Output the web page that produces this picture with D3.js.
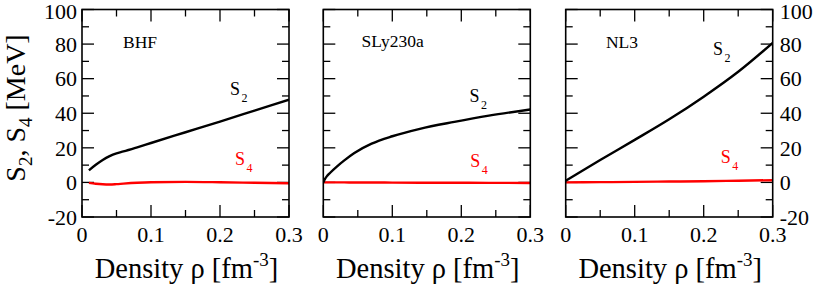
<!DOCTYPE html>
<html>
<head>
<meta charset="utf-8">
<script src="https://cdn.jsdelivr.net/npm/d3@7"></script>
<style>
  html, body { margin: 0; padding: 0; background: #fff; }
  svg { display: block; }
</style>
</head>
<body>
<svg id="chart" width="817" height="287" font-family="'Liberation Serif', 'Times New Roman', 'DejaVu Serif', serif"></svg>
<script>
// ---------------- data ----------------
const panelNames = ["BHF", "SLy230a", "NL3"];
const xTicks = [0, 0.1, 0.2, 0.3];
const xTickLabels = ["0", "0.1", "0.2", "0.3"];
const xMinorTicks = [0.05, 0.15, 0.25];
const yTicks = [-20, 0, 20, 40, 60, 80, 100];
const yTickLabels = ["-20", "0", "20", "40", "60", "80", "100"];
const yMinorTicks = [-10, 10, 30, 50, 70, 90];

const bhfX  = [0.01, 0.02, 0.03, 0.04, 0.05, 0.06, 0.08, 0.1, 0.15, 0.2, 0.25, 0.3];
const bhfS2 = [7.0, 10.2, 13.0, 15.2, 16.8, 17.9, 20.3, 22.8, 29.0, 35.2, 41.5, 47.8];
const bhfS4 = [-0.3, -0.8, -1.1, -1.2, -1.0, -0.7, -0.2, 0.1, 0.3, 0.1, -0.2, -0.5];

const slyX  = [0, 0.0025, 0.005, 0.01, 0.02, 0.03, 0.045, 0.07, 0.1, 0.14, 0.19, 0.24, 0.3];
const slyS2 = [0, 2.0, 3.5, 5.6, 9.3, 12.6, 17.0, 22.4, 26.7, 31.0, 35.0, 38.6, 42.2];
const slyS4 = [0, 0, 0, 0, 0, 0, -0.05, -0.05, -0.1, -0.15, -0.2, -0.25, -0.3];

const nl3X  = [0, 0.05, 0.1, 0.15, 0.2, 0.25, 0.3];
const nl3S2 = [1.0, 13.0, 24.6, 36.5, 49.6, 64.0, 80.7];
const nl3S4 = [0, 0.15, 0.3, 0.5, 0.7, 1.0, 1.3];

// ---------------- layout ----------------
const svg = d3.select("#chart");
const panelLefts = [82, 323.3, 565.7];
const panelW = 207;
const plotTop = 9.5, plotBottom = 217;
const majorLen = 12, minorLen = 7;

const series = [
  { x: bhfX, s2: bhfS2, s4: bhfS4 },
  { x: slyX, s2: slyS2, s4: slyS4 },
  { x: nl3X, s2: nl3S2, s4: nl3S4 }
];
// label anchor positions in data units (x, y)
const labelPos = [
  { name: [0.0594, 77.6], s2: [0.2145, 50.5], s4: [0.2217, 10.2] },
  { name: [0.0555, 78.2], s2: [0.212, 46.7], s4: [0.213, 9.2] },
  { name: [0.0584, 77.6], s2: [0.2135, 73.6], s4: [0.2246, 11.4] }
];

const y = d3.scaleLinear().domain([-20, 100]).range([plotBottom, plotTop]);

panelNames.forEach((name, i) => {
  const x0 = panelLefts[i];
  const x = d3.scaleLinear().domain([0, 0.3]).range([x0, x0 + panelW]);
  const g = svg.append("g");

  const clipId = "clip" + i;
  svg.append("clipPath").attr("id", clipId)
    .append("rect").attr("x", x0).attr("y", plotTop).attr("width", panelW).attr("height", plotBottom - plotTop);

  const line = d3.line().x(d => x(d[0])).y(d => y(d[1])).curve(d3.curveMonotoneX);
  const s = series[i];
  const s2pts = s.x.map((v, k) => [v, s.s2[k]]);
  const s4pts = s.x.map((v, k) => [v, s.s4[k]]);

  // ticks (inward) on all four sides
  const tickG = g.append("g").attr("stroke", "#000").attr("stroke-width", 1.3);
  const addYTicks = (vals, len) => vals.forEach(v => {
    tickG.append("line").attr("x1", x0).attr("x2", x0 + len).attr("y1", y(v)).attr("y2", y(v));
    tickG.append("line").attr("x1", x0 + panelW).attr("x2", x0 + panelW - len).attr("y1", y(v)).attr("y2", y(v));
  });
  const addXTicks = (vals, len) => vals.forEach(v => {
    tickG.append("line").attr("x1", x(v)).attr("x2", x(v)).attr("y1", plotBottom).attr("y2", plotBottom - len);
    tickG.append("line").attr("x1", x(v)).attr("x2", x(v)).attr("y1", plotTop).attr("y2", plotTop + len);
  });
  addYTicks(yTicks, majorLen);
  addYTicks(yMinorTicks, minorLen);
  addXTicks(xTicks, majorLen);
  addXTicks(xMinorTicks, minorLen);

  g.append("path").datum(s4pts).attr("d", line).attr("fill", "none")
    .attr("stroke", "#ff0000").attr("stroke-width", 2.4).attr("clip-path", `url(#${clipId})`);
  g.append("path").datum(s2pts).attr("d", line).attr("fill", "none")
    .attr("stroke", "#000").attr("stroke-width", 2.4).attr("clip-path", `url(#${clipId})`);

  // frame
  g.append("rect").attr("x", x0).attr("y", plotTop).attr("width", panelW).attr("height", plotBottom - plotTop)
    .attr("fill", "none").attr("stroke", "#000").attr("stroke-width", 1.6);

  // x tick labels
  xTicks.forEach((v, k) => {
    g.append("text").attr("x", x(v)).attr("y", 242).attr("text-anchor", "middle")
      .attr("font-size", 22).text(xTickLabels[k]);
  });

  // x axis title
  const xt = g.append("text").attr("x", x0 + panelW / 2 + 1).attr("y", 278)
    .attr("text-anchor", "middle").attr("font-size", 28.5);
  xt.append("tspan").text("Density ρ [fm");
  xt.append("tspan").attr("font-size", 19).attr("dy", -12).text("-3");
  xt.append("tspan").attr("dy", 12).text("]");

  // panel name
  const lp = labelPos[i];
  g.append("text").attr("x", x(lp.name[0])).attr("y", y(lp.name[1]))
    .attr("font-size", 17.5).text(name);

  // S2 / S4 labels
  const s2t = g.append("text").attr("x", x(lp.s2[0])).attr("y", y(lp.s2[1])).attr("font-size", 18).attr("fill", "#000");
  s2t.append("tspan").text("S");
  s2t.append("tspan").attr("font-size", 12).attr("dx", 1.5).attr("dy", 7).text("2");
  const s4t = g.append("text").attr("x", x(lp.s4[0])).attr("y", y(lp.s4[1])).attr("font-size", 18).attr("fill", "#ff0000");
  s4t.append("tspan").text("S");
  s4t.append("tspan").attr("font-size", 12).attr("dx", 1.5).attr("dy", 7).text("4");

  // y tick labels
  if (i === 0) {
    yTicks.forEach((v, k) => {
      g.append("text").attr("x", x0 - 5).attr("y", y(v)).attr("dy", v === 100 ? "0.45em" : "0.35em")
        .attr("text-anchor", "end").attr("font-size", 22).text(yTickLabels[k]);
    });
  }
  if (i === 2) {
    yTicks.forEach((v, k) => {
      g.append("text").attr("x", x0 + panelW + 7).attr("y", y(v)).attr("dy", v === 100 ? "0.45em" : "0.35em")
        .attr("text-anchor", "start").attr("font-size", 22).text(yTickLabels[k]);
    });
  }
});

// y axis title
const yt = svg.append("text").attr("transform", "translate(25,108) rotate(-90)")
  .attr("text-anchor", "middle").attr("font-size", 28);
yt.append("tspan").text("S");
yt.append("tspan").attr("font-size", 19).attr("dy", 7).text("2");
yt.append("tspan").attr("dy", -7).text(", S");
yt.append("tspan").attr("font-size", 19).attr("dy", 7).text("4");
yt.append("tspan").attr("dy", -7).text(" [MeV]");
</script>
</body>
</html>
